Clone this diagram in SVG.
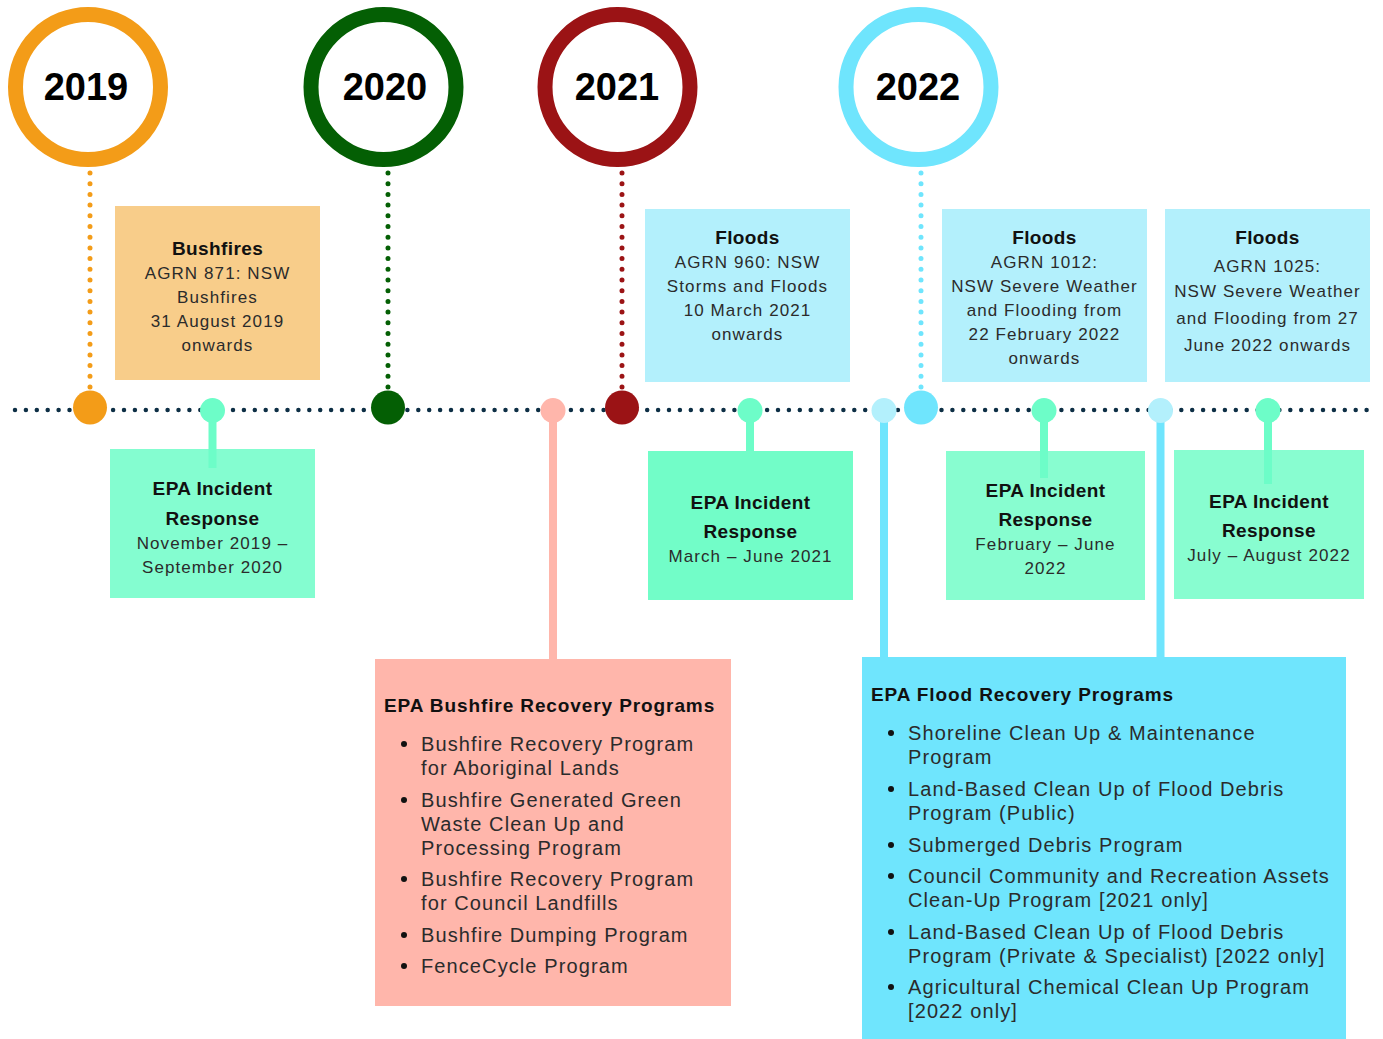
<svg xmlns="http://www.w3.org/2000/svg" width="1383" height="1039" viewBox="0 0 1383 1039">
<style>
.yr{font-family:"Liberation Sans",Arial,sans-serif;font-weight:bold;font-size:38px;fill:#000;text-anchor:middle}
.t{font-family:"Liberation Sans",Arial,sans-serif;font-weight:bold;font-size:19px;fill:#111;letter-spacing:0.4px}
.b{font-family:"Liberation Sans",Arial,sans-serif;font-size:17px;fill:#2b2b2b;letter-spacing:1.1px}
.c{text-anchor:middle}
.lt{font-family:"Liberation Sans",Arial,sans-serif;font-weight:bold;font-size:19px;fill:#111;letter-spacing:0.9px}
.li{font-family:"Liberation Sans",Arial,sans-serif;font-size:20px;fill:#2b2b2b;letter-spacing:1.1px}
.ring{fill:#fff;stroke-width:15}
.dotv{fill:none;stroke-width:5;stroke-linecap:round;stroke-dasharray:0 10.7}
.stem{stroke-width:8;fill:none}
</style>
<rect width="1383" height="1039" fill="#fff"/>
<g id="connectors">
  <line x1="15" y1="410" x2="1370" y2="410" stroke="#0d2f45" stroke-width="4.5" stroke-linecap="round" stroke-dasharray="0 10.9" fill="none"/>
  <line class="dotv" x1="90" y1="173" x2="90" y2="388" stroke="#f39c18"/>
  <line class="dotv" x1="388" y1="173" x2="388" y2="388" stroke="#045f04"/>
  <line class="dotv" x1="622" y1="173" x2="622" y2="388" stroke="#9b1315"/>
  <line class="dotv" x1="921" y1="173" x2="921" y2="388" stroke="#6fe5fd"/>
  <line class="stem" x1="212.5" y1="410" x2="212.5" y2="468" stroke="#6dfdc8"/>
  <line class="stem" x1="750" y1="410" x2="750" y2="452" stroke="#6dfdc8"/>
  <line class="stem" x1="1044" y1="410" x2="1044" y2="478" stroke="#6dfdc8"/>
  <line class="stem" x1="1268" y1="410" x2="1268" y2="484" stroke="#6dfdc8"/>
  <line class="stem" x1="553" y1="410" x2="553" y2="660" stroke="#ffb6ab"/>
  <line class="stem" x1="884" y1="410" x2="884" y2="658" stroke="#6fe5fd"/>
  <line class="stem" x1="1160.5" y1="410" x2="1160.5" y2="658" stroke="#6fe5fd"/>
</g>
<g id="year-2019"><circle class="ring" cx="88" cy="87" r="72.5" stroke="#f39c18"/><text class="yr" x="86" y="100">2019</text></g>
<g id="year-2020"><circle class="ring" cx="383.5" cy="87" r="72.5" stroke="#045f04"/><text class="yr" x="385" y="100">2020</text></g>
<g id="year-2021"><circle class="ring" cx="617.5" cy="87" r="72.5" stroke="#9b1315"/><text class="yr" x="617" y="100">2021</text></g>
<g id="year-2022"><circle class="ring" cx="918.5" cy="87" r="72.5" stroke="#6fe5fd"/><text class="yr" x="918" y="100">2022</text></g>
<g id="markers">
  <circle cx="90" cy="407.5" r="17" fill="#f39c18"/>
  <circle cx="212.5" cy="410.5" r="12.5" fill="#6dfdc8"/>
  <circle cx="388" cy="407.5" r="17" fill="#045f04"/>
  <circle cx="553" cy="410.5" r="12.5" fill="#ffb6ab"/>
  <circle cx="622" cy="407.5" r="17" fill="#9b1315"/>
  <circle cx="750" cy="410.5" r="12.5" fill="#6dfdc8"/>
  <circle cx="884" cy="410.5" r="12.5" fill="#b3f0fc"/>
  <circle cx="921" cy="407.5" r="17" fill="#6fe5fd"/>
  <circle cx="1044" cy="410.5" r="12.5" fill="#6dfdc8"/>
  <circle cx="1160.5" cy="410.5" r="12.5" fill="#b3f0fc"/>
  <circle cx="1268" cy="410.5" r="12.5" fill="#6dfdc8"/>
</g>
<g id="bushfires">
  <rect x="115" y="206" width="205" height="174" fill="#f8cd8a"/>
  <text class="t c" x="217.5" y="255">Bushfires</text>
  <text class="b c" x="217.5" y="279">AGRN 871: NSW</text>
  <text class="b c" x="217.5" y="303">Bushfires</text>
  <text class="b c" x="217.5" y="327">31 August 2019</text>
  <text class="b c" x="217.5" y="351">onwards</text>
</g>
<g id="floods-2021">
  <rect x="645" y="209" width="205" height="173" fill="#b3f0fc"/>
  <text class="t c" x="747.5" y="244">Floods</text>
  <text class="b c" x="747.5" y="268">AGRN 960: NSW</text>
  <text class="b c" x="747.5" y="292">Storms and Floods</text>
  <text class="b c" x="747.5" y="316">10 March 2021</text>
  <text class="b c" x="747.5" y="340">onwards</text>
</g>
<g id="floods-feb-2022">
  <rect x="942" y="209" width="205" height="173" fill="#b3f0fc"/>
  <text class="t c" x="1044.5" y="244">Floods</text>
  <text class="b c" x="1044.5" y="268">AGRN 1012:</text>
  <text class="b c" x="1044.5" y="292">NSW Severe Weather</text>
  <text class="b c" x="1044.5" y="316">and Flooding from</text>
  <text class="b c" x="1044.5" y="340">22 February 2022</text>
  <text class="b c" x="1044.5" y="364">onwards</text>
</g>
<g id="floods-jun-2022">
  <rect x="1165" y="209" width="205" height="173" fill="#b3f0fc"/>
  <text class="t c" x="1267.5" y="244">Floods</text>
  <text class="b c" x="1267.5" y="272">AGRN 1025:</text>
  <text class="b c" x="1267.5" y="297">NSW Severe Weather</text>
  <text class="b c" x="1267.5" y="324">and Flooding from 27</text>
  <text class="b c" x="1267.5" y="351">June 2022 onwards</text>
</g>
<g id="epa-2019">
  <rect x="110" y="449" width="205" height="149" fill="#84fdd0"/>
  <rect x="208.5" y="449" width="8" height="19" fill="#6dfdc8"/>
  <text class="t c" x="212.5" y="495">EPA Incident</text>
  <text class="t c" x="212.5" y="525">Response</text>
  <text class="b c" x="212.5" y="549">November 2019 –</text>
  <text class="b c" x="212.5" y="573">September 2020</text>
</g>
<g id="epa-2021">
  <rect x="648" y="451" width="205" height="149" fill="#72fdc8"/>
  <text class="t c" x="750.5" y="509">EPA Incident</text>
  <text class="t c" x="750.5" y="538">Response</text>
  <text class="b c" x="750.5" y="562">March – June 2021</text>
</g>
<g id="epa-feb-2022">
  <rect x="946" y="451" width="199" height="149" fill="#88fdd0"/>
  <rect x="1040" y="451" width="8" height="27" fill="#6dfdc8"/>
  <text class="t c" x="1045.5" y="497">EPA Incident</text>
  <text class="t c" x="1045.5" y="526">Response</text>
  <text class="b c" x="1045.5" y="550">February – June</text>
  <text class="b c" x="1045.5" y="574">2022</text>
</g>
<g id="epa-jul-2022">
  <rect x="1174" y="450" width="190" height="149" fill="#88fdd0"/>
  <rect x="1264" y="450" width="8" height="34" fill="#6dfdc8"/>
  <text class="t c" x="1269" y="508">EPA Incident</text>
  <text class="t c" x="1269" y="537">Response</text>
  <text class="b c" x="1269" y="561">July – August 2022</text>
</g>
<g id="bushfire-recovery">
  <rect x="375" y="659" width="356" height="347" fill="#ffb6ab"/>
  <text class="lt" x="384" y="712">EPA Bushfire Recovery Programs</text>
  <g fill="#111">
    <circle cx="404" cy="744" r="3"/><circle cx="404" cy="800" r="3"/><circle cx="404" cy="879" r="3"/><circle cx="404" cy="935" r="3"/><circle cx="404" cy="966" r="3"/>
  </g>
  <text class="li" x="421" y="751">Bushfire Recovery Program</text>
  <text class="li" x="421" y="775">for Aboriginal Lands</text>
  <text class="li" x="421" y="807">Bushfire Generated Green</text>
  <text class="li" x="421" y="831">Waste Clean Up and</text>
  <text class="li" x="421" y="855">Processing Program</text>
  <text class="li" x="421" y="886">Bushfire Recovery Program</text>
  <text class="li" x="421" y="910">for Council Landfills</text>
  <text class="li" x="421" y="942">Bushfire Dumping Program</text>
  <text class="li" x="421" y="973">FenceCycle Program</text>
</g>
<g id="flood-recovery">
  <rect x="862" y="657" width="484" height="382" fill="#6fe5fd"/>
  <text class="lt" x="871" y="701">EPA Flood Recovery Programs</text>
  <g fill="#111">
    <circle cx="891" cy="733" r="3"/><circle cx="891" cy="789" r="3"/><circle cx="891" cy="845" r="3"/><circle cx="891" cy="876" r="3"/><circle cx="891" cy="932" r="3"/><circle cx="891" cy="987" r="3"/>
  </g>
  <text class="li" x="908" y="740">Shoreline Clean Up &amp; Maintenance</text>
  <text class="li" x="908" y="764">Program</text>
  <text class="li" x="908" y="796">Land-Based Clean Up of Flood Debris</text>
  <text class="li" x="908" y="820">Program (Public)</text>
  <text class="li" x="908" y="852">Submerged Debris Program</text>
  <text class="li" x="908" y="883">Council Community and Recreation Assets</text>
  <text class="li" x="908" y="907">Clean-Up Program [2021 only]</text>
  <text class="li" x="908" y="939">Land-Based Clean Up of Flood Debris</text>
  <text class="li" x="908" y="963">Program (Private &amp; Specialist) [2022 only]</text>
  <text class="li" x="908" y="994">Agricultural Chemical Clean Up Program</text>
  <text class="li" x="908" y="1018">[2022 only]</text>
</g>
</svg>
